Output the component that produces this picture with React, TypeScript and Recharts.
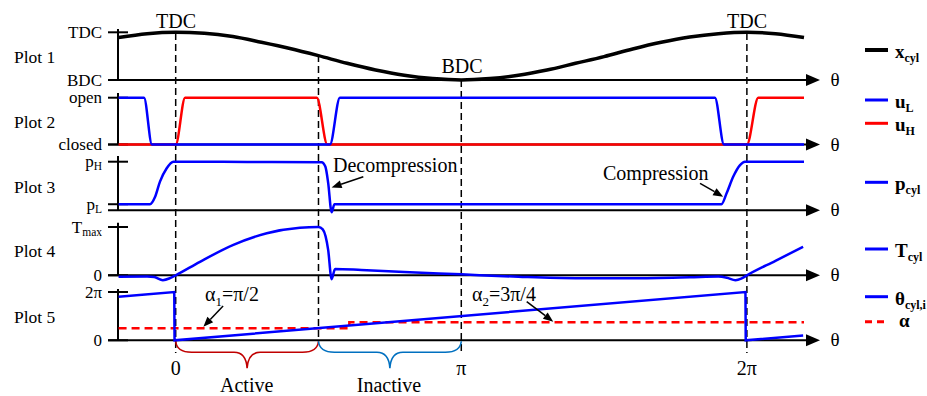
import React from 'react';
import { ComposedChart, Line, XAxis, YAxis, ReferenceLine } from 'recharts';

const W = 927;
const H = 396;
const SERIF = "'Liberation Serif', 'Times New Roman', serif";

// crank angle is expressed in units of pi
const X_MIN = -0.202;
const X_MAX = 2.207;
const AXIS_START = -0.237;
const AXIS_TIP = 2.256;

// Plot 1 – piston position (BDC = 0, TDC = 1)
const xCyl: [number, number][] = [
  [-0.2, 0.89], [-0.1, 0.97], [0, 1.0], [0.1, 0.98], [0.2, 0.91], [0.3, 0.79],
  [0.4, 0.66], [0.5, 0.51], [0.6, 0.35], [0.7, 0.21], [0.8, 0.1], [0.9, 0.03],
  [1.0, 0.0], [1.1, 0.03], [1.2, 0.1], [1.3, 0.21], [1.4, 0.35], [1.5, 0.49],
  [1.6, 0.65], [1.7, 0.79], [1.8, 0.9], [1.9, 0.97], [2.0, 1.0], [2.1, 0.97], [2.2, 0.89],
];

// Plot 2 – valves (closed = 0, open = 1)
const uL: [number, number][] = [
  [-0.2, 1], [-0.111, 1], [-0.083, 0], [0.54, 0], [0.575, 1], [1.888, 1], [1.92, 0], [2.2, 0],
];
const uH: [number, number][] = [
  [-0.2, 0], [0, 0], [0.033, 1], [0.494, 1], [0.531, 0], [2.0, 0], [2.04, 1], [2.2, 1],
];

// Plot 3 – cylinder pressure (pH = 1)
const pCyl: [number, number][] = [
  [-0.2, 0.125], [-0.09, 0.125], [-0.072, 0.28], [-0.055, 0.59], [-0.032, 0.86], [-0.008, 1.0],
  [0.25, 0.995], [0.511, 0.99], [0.524, 0.9], [0.534, 0.56], [0.546, -0.04], [0.556, 0.125],
  [0.6, 0.125], [1.911, 0.125], [1.929, 0.35], [1.952, 0.69], [1.976, 0.93], [1.993, 1.0], [2.2, 1.0],
];

// Plot 4 – cylinder torque (Tmax = 1)
const tCyl: [number, number][] = [
  [-0.2, -0.03], [-0.1, -0.025], [-0.075, -0.035], [-0.045, -0.1], [-0.02, -0.06], [0, 0],
  [0.085, 0.28], [0.202, 0.63], [0.319, 0.87], [0.435, 0.985], [0.5, 1.0], [0.515, 0.95],
  [0.534, 0.52], [0.546, -0.08], [0.558, 0.13], [0.65, 0.11], [0.8, 0.07], [1.0, 0.02],
  [1.2, -0.03], [1.4, -0.06], [1.6, -0.06], [1.8, -0.04], [1.9, -0.025], [1.93, -0.05],
  [1.96, -0.1], [1.98, -0.07], [2.0, 0], [2.1, 0.3], [2.197, 0.59],
];

// Plot 5 – local cylinder angle and switching angle (units of pi)
const thetaCyl: [number, number][] = [
  [-0.2, 1.8], [-0.005, 2.0], [-0.004, 0], [1.995, 2.0], [1.996, 0], [2.197, 0.2],
];
const alpha: [number, number][] = [[-0.2, 0.5], [0.608, 0.75], [2.2, 0.75]];

const guideTheta = [0, 0.5, 1, 2];
const thetaTicks = [0, 1, 2];
const thetaTickLabels = ['0', 'π', '2π'];

const p1Ticks = [0, 1];
const p1Labels = [['BDC'], ['TDC']];
const p2Ticks = [0, 1];
const p2Labels = [['closed'], ['open']];
const p3Ticks = [0.125, 1];
const p3Labels = [['p', 'L'], ['p', 'H']];
const p4Ticks = [0, 1];
const p4Labels = [['0'], ['T', 'max']];
const p5Ticks = [0, 2];
const p5Labels = [['0'], ['2π']];

const toRows = (pts: [number, number][]) => pts.map(([t, v]) => ({ t, v }));

// layout of each panel: baseline pixel, pixels per unit, top of y axis
const panels = [
  { id: 'p1', base: 80, unit: 47.7, top: 29, ticks: p1Ticks, labels: p1Labels, name: 'Plot 1', nameY: 63 },
  { id: 'p2', base: 144.5, unit: 46.8, top: 93, ticks: p2Ticks, labels: p2Labels, name: 'Plot 2', nameY: 128 },
  { id: 'p3', base: 210.3, unit: 48.6, top: 156, ticks: p3Ticks, labels: p3Labels, name: 'Plot 3', nameY: 193 },
  { id: 'p4', base: 275.3, unit: 48.3, top: 222.7, ticks: p4Ticks, labels: p4Labels, name: 'Plot 4', nameY: 257 },
  { id: 'p5', base: 340.3, unit: 24.15, top: 289, ticks: p5Ticks, labels: p5Labels, name: 'Plot 5', nameY: 323 },
];

const guideSpan: Record<number, [number, number]> = { 0: [33, 353], 0.5: [55, 340], 1: [80, 353], 2: [33, 353] };

const BLUE = '#0000ff';
const RED = '#ff0000';

const arrow = (head: number, half: number, width: number) => (p: any) => {
  const { x1, y1, x2, y2 } = p;
  const a = Math.atan2(y2 - y1, x2 - x1);
  const bx = x2 - head * Math.cos(a);
  const by = y2 - head * Math.sin(a);
  const nx = -Math.sin(a) * half;
  const ny = Math.cos(a) * half;
  return (
    <g>
      <line x1={x1} y1={y1} x2={bx} y2={by} stroke="#000" strokeWidth={width} />
      <polygon points={`${x2},${y2} ${bx + nx},${by + ny} ${bx - nx},${by - ny}`} fill="#000" />
    </g>
  );
};

const brace = (color: string) => (p: any) => {
  const { x1, y1, x2 } = p;
  const y0 = y1 + 1;
  const m = (x1 + x2) / 2;
  const d = `M${x1},${y0} Q${x1 + 1},${y0 + 11} ${x1 + 16},${y0 + 11} L${m - 13},${y0 + 11} Q${m - 1},${y0 + 11} ${m},${y0 + 27} Q${m + 1},${y0 + 11} ${m + 13},${y0 + 11} L${x2 - 16},${y0 + 11} Q${x2 - 1},${y0 + 11} ${x2},${y0}`;
  return <path d={d} fill="none" stroke={color} strokeWidth={1.6} />;
};

// tick mark crossing the y axis, with its label on the left
const yTick = (parts: string[]) => (p: any) => {
  const { x1, y1 } = p;
  const [main, sub] = parts;
  return (
    <g>
      <line x1={x1 - 10} x2={x1 + 10} y1={y1} y2={y1} stroke="#000" strokeWidth={2} />
      <text x={x1 - 16} y={y1 + 5.5} textAnchor="end" fontSize={17} fontFamily={SERIF} fill="#000">
        {main}
        {sub && (
          <tspan fontSize={11.5} dy={3}>
            {sub}
          </tspan>
        )}
      </text>
    </g>
  );
};

const legend = [
  { main: 'x', sub: 'cyl', color: '#000', y: 50, w: 3.5, dash: undefined },
  { main: 'u', sub: 'L', color: BLUE, y: 100, w: 2.5, dash: undefined },
  { main: 'u', sub: 'H', color: RED, y: 123.3, w: 2.5, dash: undefined },
  { main: 'p', sub: 'cyl', color: BLUE, y: 182.3, w: 2.5, dash: undefined },
  { main: 'T', sub: 'cyl', color: BLUE, y: 249, w: 2.5, dash: undefined },
  { main: 'θ', sub: 'cyl,i', color: BLUE, y: 296.7, w: 2.5, dash: undefined },
  { main: 'α', sub: '', color: RED, y: 321.7, w: 2.5, dash: '7 5' },
];

export default function App() {
  const axisArrow = arrow(14, 6, 2);
  const noteArrow = arrow(10, 4, 1.5);
  return (
    <div style={{ position: 'relative', width: W, height: H, background: '#fff' }}>
      <style>{'body{margin:0}'}</style>
      <ComposedChart width={W} height={H} margin={{ top: 0, right: W - 806, bottom: 0, left: 118 }}>
        <XAxis type="number" dataKey="t" domain={[X_MIN, X_MAX]} hide allowDataOverflow />
        <YAxis yAxisId="px" hide domain={[0, H]} reversed allowDataOverflow />
        {panels.map((pl) => (
          <YAxis
            key={pl.id}
            yAxisId={pl.id}
            type="number"
            hide
            domain={[(pl.base - H) / pl.unit, pl.base / pl.unit]}
            allowDataOverflow
          />
        ))}

        {guideTheta.map((g) => (
          <ReferenceLine
            key={'g' + g}
            yAxisId="px"
            ifOverflow="visible"
            segment={[{ x: g, y: guideSpan[g][0] }, { x: g, y: guideSpan[g][1] }]}
            stroke="#000"
            strokeWidth={1.5}
            strokeDasharray="7 4"
          />
        ))}

        {panels.map((pl) => (
          <ReferenceLine
            key={'v' + pl.id}
            yAxisId={pl.id}
            ifOverflow="visible"
            segment={[{ x: X_MIN, y: 0 }, { x: X_MIN, y: (pl.base - pl.top) / pl.unit }]}
            stroke="#000"
            strokeWidth={2}
          />
        ))}
        {panels.map((pl) => (
          <ReferenceLine
            key={'h' + pl.id}
            yAxisId={pl.id}
            ifOverflow="visible"
            segment={[{ x: AXIS_START, y: 0 }, { x: AXIS_TIP, y: 0 }]}
            shape={axisArrow}
          />
        ))}
        {panels.map((pl) =>
          pl.ticks.map((v, i) => (
            <ReferenceLine
              key={'t' + pl.id + i}
              yAxisId={pl.id}
              ifOverflow="visible"
              segment={[{ x: X_MIN, y: v }, { x: X_MIN, y: v }]}
              shape={yTick(pl.labels[i])}
            />
          ))
        )}

        <ReferenceLine yAxisId="p5" ifOverflow="visible" segment={[{ x: 0, y: 0 }, { x: 0.5, y: 0 }]} shape={brace('#c00000')} />
        <ReferenceLine yAxisId="p5" ifOverflow="visible" segment={[{ x: 0.5, y: 0 }, { x: 1, y: 0 }]} shape={brace('#0070c0')} />

        <Line yAxisId="p1" data={toRows(xCyl)} dataKey="v" type="monotone" stroke="#000" strokeWidth={3.5} dot={false} activeDot={false} isAnimationActive={false} />
        <Line yAxisId="p2" data={toRows(uH)} dataKey="v" type="monotone" stroke={RED} strokeWidth={2.5} dot={false} activeDot={false} isAnimationActive={false} />
        <Line yAxisId="p2" data={toRows(uL)} dataKey="v" type="monotone" stroke={BLUE} strokeWidth={2.5} dot={false} activeDot={false} isAnimationActive={false} />
        <Line yAxisId="p3" data={toRows(pCyl)} dataKey="v" type="monotone" stroke={BLUE} strokeWidth={2.5} dot={false} activeDot={false} isAnimationActive={false} />
        <Line yAxisId="p4" data={toRows(tCyl)} dataKey="v" type="monotone" stroke={BLUE} strokeWidth={2.5} dot={false} activeDot={false} isAnimationActive={false} />
        <Line yAxisId="p5" data={toRows(alpha)} dataKey="v" type="stepAfter" stroke={RED} strokeWidth={2.5} strokeDasharray="8 5" dot={false} activeDot={false} isAnimationActive={false} />
        <Line yAxisId="p5" data={toRows(thetaCyl)} dataKey="v" type="linear" stroke={BLUE} strokeWidth={2.5} dot={false} activeDot={false} isAnimationActive={false} />

        <ReferenceLine yAxisId="p3" ifOverflow="visible" segment={[{ x: 0.657, y: 0.69 }, { x: 0.546, y: 0.47 }]} shape={noteArrow} />
        <ReferenceLine yAxisId="p3" ifOverflow="visible" segment={[{ x: 1.836, y: 0.556 }, { x: 1.917, y: 0.28 }]} shape={noteArrow} />
        <ReferenceLine yAxisId="p5" ifOverflow="visible" segment={[{ x: 0.166, y: 1.42 }, { x: 0.097, y: 0.56 }]} shape={noteArrow} />
        <ReferenceLine yAxisId="p5" ifOverflow="visible" segment={[{ x: 1.229, y: 1.6 }, { x: 1.322, y: 0.77 }]} shape={noteArrow} />
      </ComposedChart>

      <svg width={W} height={H} style={{ position: 'absolute', left: 0, top: 0, pointerEvents: 'none' }} fontFamily={SERIF}>
        {panels.map((pl) => (
          <g key={'n' + pl.id}>
            <text x={14} y={pl.nameY} fontSize={17.5}>{pl.name}</text>
            <text x={835} y={pl.base + 6} fontSize={19} textAnchor="middle">θ</text>
          </g>
        ))}
        <text x={176} y={28} fontSize={20} textAnchor="middle">TDC</text>
        <text x={747} y={28} fontSize={20} textAnchor="middle">TDC</text>
        <text x={462} y={73} fontSize={20} textAnchor="middle">BDC</text>
        <text x={333} y={172} fontSize={20}>Decompression</text>
        <text x={603} y={180} fontSize={20}>Compression</text>
        <text x={205} y={301} fontSize={20}>
          α<tspan fontSize={13} dy={5}>1</tspan>
          <tspan dy={-5}>=π/2</tspan>
        </text>
        <text x={472} y={301} fontSize={20}>
          α<tspan fontSize={13} dy={5}>2</tspan>
          <tspan dy={-5}>=3π/4</tspan>
        </text>
        {thetaTicks.map((t, i) => (
          <text key={'tt' + t} x={175.7 + t * 285.6} y={375} fontSize={20} textAnchor="middle">
            {thetaTickLabels[i]}
          </text>
        ))}
        <text x={246.7} y={392} fontSize={20} textAnchor="middle">Active</text>
        <text x={389} y={392} fontSize={20} textAnchor="middle">Inactive</text>

        {legend.map((l) => (
          <g key={l.main + l.sub}>
            <line x1={865} x2={888} y1={l.y} y2={l.y} stroke={l.color} strokeWidth={l.w + 0.5} strokeDasharray={l.dash} />
            <text x={l.sub ? 895 : 899} y={l.y + (l.sub ? 8 : 5)} fontSize={19} fontWeight="bold">
              {l.main}
              {l.sub && (
                <tspan fontSize={12} dy={4}>
                  {l.sub}
                </tspan>
              )}
            </text>
          </g>
        ))}
      </svg>
    </div>
  );
}
